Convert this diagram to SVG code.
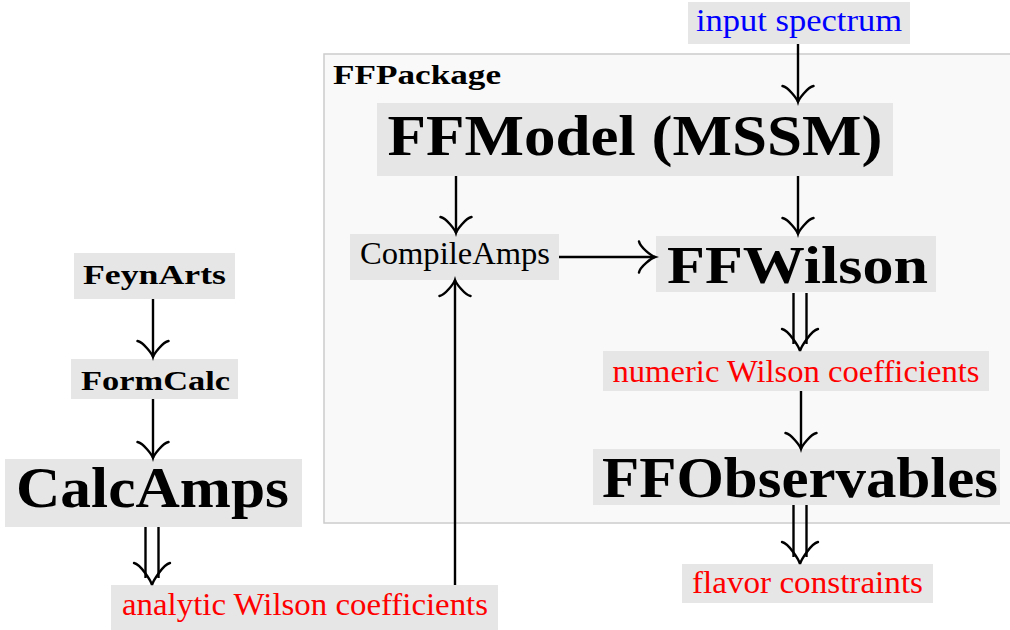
<svg xmlns="http://www.w3.org/2000/svg" xmlns:xlink="http://www.w3.org/1999/xlink" width="1010" height="630" viewBox="0 0 1010 630">
<style>
.box{fill:#e6e6e6;stroke:none}
.pkg{fill:#f9f9f9;stroke:#cccccc;stroke-width:1.5}
.t{font-family:"Liberation Serif","DejaVu Serif",serif;text-anchor:middle}
.rg{font-size:31px;font-weight:normal}
.bm{font-size:27px;font-weight:bold}
.bl{font-size:56px;font-weight:bold}
.red{fill:#ff0000}
.blue{fill:#0000ff}
.blk{fill:#000000}
.ln{stroke:#000;stroke-width:2.4;fill:none}
.hd{stroke:#000;stroke-width:2.4;fill:none;stroke-linecap:round}
</style>
<defs>
<marker id="arr" viewBox="-20 -20 24 40" markerWidth="24" markerHeight="40" refX="0" refY="0" orient="auto" markerUnits="userSpaceOnUse">
<path class="hd" d="M -16,-15.5 C -14.9,-9.7 -3.2,-1 0,0 C -3.2,1 -14.9,9.7 -16,15.5"/>
</marker>
<path id="dh" class="hd" d="M -18,-22 C -11.25,-20.5 -1.1,-4.4 0,0 C 1.1,-4.4 11.25,-20.5 18,-22"/>
</defs>

<g id="ffpackage">
<rect class="pkg" x="324" y="54" width="700" height="469"/>
<text class="t bm blk" x="417" y="84" textLength="168" lengthAdjust="spacingAndGlyphs">FFPackage</text>
</g>

<g id="input-spectrum">
<rect class="box" x="688" y="2" width="222" height="42"/>
<text class="t rg blue" x="799" y="31" textLength="206" lengthAdjust="spacingAndGlyphs">input spectrum</text>
</g>

<g id="ffmodel">
<rect class="box" x="377" y="103" width="516" height="73"/>
<text class="t bl blk" x="635" y="155" textLength="495" lengthAdjust="spacingAndGlyphs">FFModel (MSSM)</text>
</g>

<g id="compileamps">
<rect class="box" x="350" y="234" width="209" height="46"/>
<text class="t rg blk" x="455" y="264" textLength="190" lengthAdjust="spacingAndGlyphs">CompileAmps</text>
</g>

<g id="ffwilson">
<rect class="box" x="656" y="236" width="280" height="56"/>
<text class="t bl blk" x="797.5" y="283" style="font-size:53px" textLength="261" lengthAdjust="spacingAndGlyphs">FFWilson</text>
</g>

<g id="numeric-wilson">
<rect class="box" x="603" y="351" width="386" height="40"/>
<text class="t rg red" x="796" y="382" textLength="367" lengthAdjust="spacingAndGlyphs">numeric Wilson coefficients</text>
</g>

<g id="ffobservables">
<rect class="box" x="593" y="449" width="407" height="56"/>
<text class="t bl blk" x="800" y="497" textLength="396" lengthAdjust="spacingAndGlyphs">FFObservables</text>
</g>

<g id="flavor-constraints">
<rect class="box" x="682" y="564" width="251" height="39"/>
<text class="t rg red" x="807.5" y="593" textLength="231" lengthAdjust="spacingAndGlyphs">flavor constraints</text>
</g>

<g id="feynarts">
<rect class="box" x="74" y="253" width="161" height="46"/>
<text class="t bm blk" x="154.5" y="284" textLength="143" lengthAdjust="spacingAndGlyphs">FeynArts</text>
</g>

<g id="formcalc">
<rect class="box" x="71" y="359" width="167" height="40"/>
<text class="t bm blk" x="155.5" y="390" textLength="149" lengthAdjust="spacingAndGlyphs">FormCalc</text>
</g>

<g id="calcamps">
<rect class="box" x="5" y="459" width="297" height="68"/>
<text class="t bl blk" x="152.5" y="507" textLength="273" lengthAdjust="spacingAndGlyphs">CalcAmps</text>
</g>

<g id="analytic-wilson">
<rect class="box" x="111" y="585" width="387" height="45"/>
<text class="t rg red" x="305" y="615" textLength="366" lengthAdjust="spacingAndGlyphs">analytic Wilson coefficients</text>
</g>

<g id="connectors">
<line class="ln" x1="798" y1="44" x2="798" y2="102" marker-end="url(#arr)"/>
<line class="ln" x1="456" y1="176" x2="456" y2="233" marker-end="url(#arr)"/>
<line class="ln" x1="798" y1="176" x2="798" y2="234" marker-end="url(#arr)"/>
<line class="ln" x1="559" y1="257" x2="655" y2="257" marker-end="url(#arr)"/>
<line class="ln" x1="455" y1="585" x2="455" y2="280" marker-end="url(#arr)"/>
<line class="ln" x1="153" y1="299" x2="153" y2="357" marker-end="url(#arr)"/>
<line class="ln" x1="153" y1="399" x2="153" y2="458" marker-end="url(#arr)"/>
<line class="ln" x1="801" y1="391" x2="801" y2="449" marker-end="url(#arr)"/>
<g id="calcamps-to-analytic">
<line class="ln" x1="145.5" y1="527" x2="145.5" y2="578"/>
<line class="ln" x1="158.5" y1="527" x2="158.5" y2="578"/>
<use xlink:href="#dh" transform="translate(152,585)"/>
</g>
<g id="ffwilson-to-numeric">
<line class="ln" x1="793.5" y1="293" x2="793.5" y2="344"/>
<line class="ln" x1="806.5" y1="293" x2="806.5" y2="344"/>
<use xlink:href="#dh" transform="translate(800,351)"/>
</g>
<g id="ffobservables-to-flavor">
<line class="ln" x1="793.5" y1="505" x2="793.5" y2="557"/>
<line class="ln" x1="806.5" y1="505" x2="806.5" y2="557"/>
<use xlink:href="#dh" transform="translate(800,564)"/>
</g>
</g>
</svg>
